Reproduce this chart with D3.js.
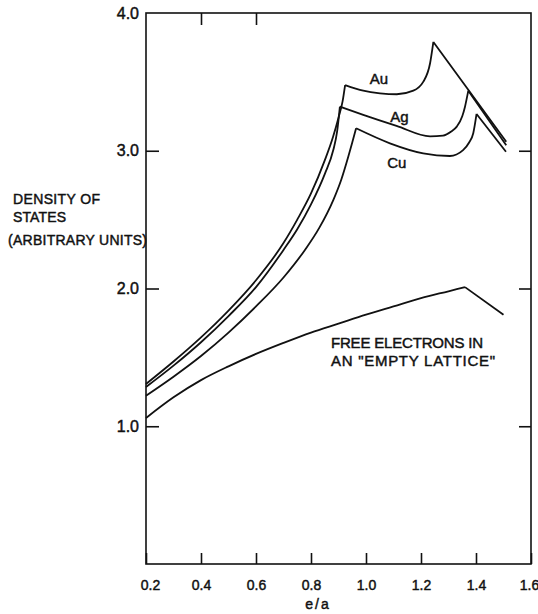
<!DOCTYPE html>
<html>
<head>
<meta charset="utf-8">
<script src="https://cdn.jsdelivr.net/npm/d3@7"></script>
<style>
  body { margin: 0; background: #fff; }
  text { font-family: "Liberation Sans", Arial, sans-serif; fill: #111; stroke: #111; stroke-width: 0.45px; }
</style>
</head>
<body>
<svg id="chart" width="538" height="614"></svg>
<script>
// Electrons per atom (e/a) tick values and density-of-states tick values
const xTickValues = [0.2, 0.4, 0.6, 0.8, 1.0, 1.2, 1.4, 1.6];
const yTickValues = [1.0, 2.0, 3.0, 4.0];

// Density of states curves: [e/a, density]
const auCurve = [
  [0.2, 1.307], [0.3, 1.47], [0.4, 1.645], [0.5, 1.84], [0.6, 2.06], [0.7, 2.33],
  [0.75, 2.5], [0.8, 2.69], [0.85, 2.93], [0.88, 3.1], [0.9, 3.24], [0.915, 3.36], [0.924, 3.477],
  [0.99, 3.436], [1.051, 3.417], [1.112, 3.41], [1.172, 3.436], [1.208, 3.5],
  [1.233, 3.635], [1.245, 3.79],
  [1.51, 3.066]
];
const auCorners = [0.924, 1.245];

const agCurve = [
  [0.2, 1.285], [0.3, 1.44], [0.4, 1.61], [0.5, 1.8], [0.6, 2.01], [0.7, 2.28],
  [0.75, 2.43], [0.8, 2.61], [0.85, 2.83], [0.881, 3.005], [0.895, 3.14], [0.905, 3.32],
  [0.99, 3.26], [1.111, 3.18], [1.233, 3.105], [1.28, 3.11], [1.31, 3.14], [1.33, 3.175],
  [1.35, 3.25], [1.36, 3.32], [1.372, 3.436],
  [1.51, 3.04]
];
const agCorners = [0.905, 1.372];

const cuCurve = [
  [0.2, 1.222], [0.3, 1.36], [0.4, 1.51], [0.5, 1.68], [0.6, 1.87], [0.7, 2.08],
  [0.778, 2.28], [0.83, 2.44], [0.881, 2.642], [0.91, 2.79], [0.936, 2.96], [0.95, 3.06],
  [0.964, 3.163],
  [1.087, 3.054], [1.208, 2.981], [1.305, 2.962], [1.353, 3.005], [1.375, 3.06],
  [1.39, 3.127], [1.402, 3.267],
  [1.509, 2.993]
];
const cuCorners = [0.964, 1.402];

const freeCurve = [
  [0.2, 1.06], [0.3, 1.21], [0.4, 1.335], [0.5, 1.435], [0.6, 1.525], [0.7, 1.605],
  [0.8, 1.68], [0.9, 1.745], [1.0, 1.81], [1.1, 1.87], [1.2, 1.93], [1.3, 1.98],
  [1.36, 2.01],
  [1.5, 1.81]
];
const freeCorners = [1.36];

const curveLabels = [
  { text: "Au", at: [1.047, 3.482] },
  { text: "Ag", at: [1.122, 3.211] },
  { text: "Cu", at: [1.112, 2.877] }
];

const svg = d3.select("#chart");
const frame = { left: 146, right: 531, top: 13, bottom: 564 };

const x = d3.scaleLinear().domain([0.2, 1.6]).range([frame.left, frame.right]);
const y = d3.scaleLinear().domain([0, 4]).range([frame.bottom, frame.top]);

// Frame
svg.append("rect")
  .attr("x", frame.left).attr("y", frame.top)
  .attr("width", frame.right - frame.left).attr("height", frame.bottom - frame.top)
  .attr("fill", "none").attr("stroke", "#111").attr("stroke-width", 1.6);

// Bottom axis: inward ticks, labels below
const xAxis = svg.append("g")
  .attr("transform", `translate(0,${frame.bottom})`)
  .call(d3.axisBottom(x).tickValues(xTickValues).tickFormat(d3.format(".1f"))
    .tickSizeInner(-11).tickSizeOuter(0).tickPadding(16));
xAxis.select(".domain").remove();
xAxis.selectAll("line").attr("stroke", "#111").attr("stroke-width", 1.6);
xAxis.selectAll("text").style("font-size", "14px").attr("fill", "#111")
  .attr("dx", d => d === 0.2 ? 4 : (d === 1.6 ? -2 : 0));

// Top axis: a couple of inward ticks
const xTop = svg.append("g")
  .attr("transform", `translate(0,${frame.top})`)
  .call(d3.axisTop(x).tickValues([0.4, 0.6]).tickFormat("").tickSizeInner(-12).tickSizeOuter(0));
xTop.select(".domain").remove();
xTop.selectAll("line").attr("stroke", "#111").attr("stroke-width", 1.6);

// Left axis
const yAxis = svg.append("g")
  .attr("transform", `translate(${frame.left},0)`)
  .call(d3.axisLeft(y).tickValues(yTickValues).tickFormat(d3.format(".1f"))
    .tickSizeInner(-13).tickSizeOuter(0).tickPadding(7));
yAxis.select(".domain").remove();
yAxis.selectAll("line").attr("stroke", "#111").attr("stroke-width", 1.6)
  .attr("display", d => d === 4 ? "none" : null);
yAxis.selectAll("text").style("font-size", "16px").attr("fill", "#111");

// Right axis
const yRight = svg.append("g")
  .attr("transform", `translate(${frame.right},0)`)
  .call(d3.axisRight(y).tickValues([1, 2, 3]).tickFormat("").tickSizeInner(-12).tickSizeOuter(0));
yRight.select(".domain").remove();
yRight.selectAll("line").attr("stroke", "#111").attr("stroke-width", 1.6);

// Split a curve at its cusps so each smooth piece is drawn separately
function pieces(points, corners) {
  const segs = [[]];
  points.forEach(p => {
    segs[segs.length - 1].push(p);
    if (corners.includes(p[0])) segs.push([p]);
  });
  return segs.filter(s => s.length > 1);
}

const line = d3.line().x(d => x(d[0])).y(d => y(d[1])).curve(d3.curveMonotoneX);

[[auCurve, auCorners], [agCurve, agCorners], [cuCurve, cuCorners], [freeCurve, freeCorners]]
  .forEach(([pts, corners]) => {
    svg.append("path")
      .attr("d", pieces(pts, corners).map(s => line(s)).join(""))
      .attr("fill", "none").attr("stroke", "#111")
      .attr("stroke-width", 1.8).attr("stroke-linejoin", "miter");
  });

// Curve labels
curveLabels.forEach(l => {
  svg.append("text").attr("x", x(l.at[0])).attr("y", y(l.at[1]))
    .attr("text-anchor", "middle").style("font-size", "15px").text(l.text);
});

svg.append("text").attr("x", 331).attr("y", 348).style("font-size", "15px")
  .attr("textLength", 152).attr("lengthAdjust", "spacing").text("FREE ELECTRONS IN");
svg.append("text").attr("x", 331).attr("y", 366).style("font-size", "15px")
  .attr("textLength", 164).attr("lengthAdjust", "spacing").text("AN \"EMPTY LATTICE\"");

// Axis titles
const yTitle = [
  { t: "DENSITY OF", x: 13, y: 204, w: 87 },
  { t: "STATES", x: 13, y: 222, w: 53 },
  { t: "(ARBITRARY UNITS)", x: 8, y: 245, w: 139 }
];
yTitle.forEach(r => {
  svg.append("text").attr("x", r.x).attr("y", r.y).style("font-size", "14px")
    .attr("textLength", r.w).attr("lengthAdjust", "spacing").text(r.t);
});

svg.append("text").attr("x", 318).attr("y", 609).attr("text-anchor", "middle")
  .style("font-size", "14px").style("letter-spacing", "2px").text("e/a");
</script>
</body>
</html>
